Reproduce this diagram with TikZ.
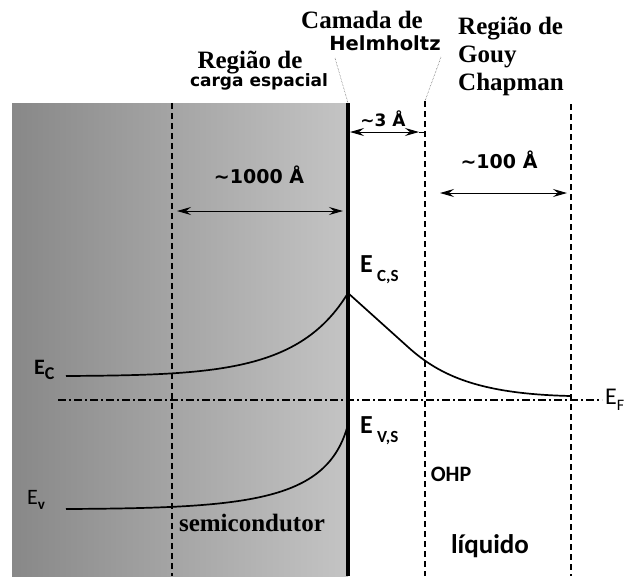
\documentclass[tikz,border=0pt]{standalone}
\usepackage{fontspec}
\setmainfont{Liberation Serif}
\newfontfamily\dvs{DejaVu Sans}
\newfontfamily\crl{Carlito}
\usetikzlibrary{arrows.meta}
\definecolor{gL}{RGB}{136,136,136}
\definecolor{gR}{RGB}{196,196,196}
\tikzset{
  serlab/.style={inner sep=0pt, font=\fontsize{25}{28}\selectfont\bfseries},
  sanlab/.style={inner sep=0pt, font=\dvs\fontsize{17}{20}\selectfont\bfseries},
  elab/.style={inner sep=0pt, font=\crl\fontsize{24}{26}\selectfont\bfseries},
  vdash/.style={line width=1.1pt, dash pattern=on 6pt off 4pt},
  fermi/.style={line width=1.4pt, dash pattern=on 8pt off 3pt on 2pt off 3pt},
  band/.style={line width=1.7pt},
  dimarrow/.style={line width=1pt, {Stealth[length=14pt,width=8pt,inset=5pt]}-{Stealth[length=14pt,width=8pt,inset=5pt]}},
  pointer/.style={line width=0.5pt, densely dotted, black!70}
}
\begin{document}
\begin{tikzpicture}[x=1pt,y=-1pt]
\useasboundingbox (0,0) rectangle (626,576);
% semiconductor block
\shade[left color=gL, right color=gR] (12,103) rectangle (348,576);
% vertical dashed lines
\coordinate (d1t) at (172,103); \coordinate (d1b) at (172,576);
\coordinate (d2t) at (425,101); \coordinate (d2b) at (425,576);
\coordinate (d3t) at (571,104); \coordinate (d3b) at (571,576);
\draw[vdash] (d1t) -- (d1b);
\draw[vdash] (d2t) -- (d2b);
\draw[vdash] (d3t) -- (d3b);
% Fermi level
\coordinate (efl) at (58,400); \coordinate (efr) at (602,400);
\draw[fermi] (efl) -- (efr);
% bands
\coordinate (ec0) at (66,376); \coordinate (ecp) at (348,293); \coordinate (ec1) at (571,396);
\draw[band] (ec0) .. controls (215,375) and (300,372) .. (ecp)
            -- (408,347) .. controls (440,376) and (480,394) .. (ec1);
\coordinate (ev0) at (66,509); \coordinate (evp) at (347,428);
\draw[band] (ev0) .. controls (245,508) and (325,502) .. (evp);
% interface
\coordinate (it) at (348,103); \coordinate (ib) at (348,576);
\draw[line width=4pt] (it) -- (ib);
% top labels
\node[serlab] (reg1) at (250,63) {Região de};
\node[sanlab] (carga) at (259,82) {carga espacial};
\node[serlab] (cam) at (362,20) {Camada de};
\node[sanlab, font=\dvs\fontsize{19.5}{20}\selectfont\bfseries] (helm) at (385,43) {Helmholtz};
\node[serlab, align=left, anchor=west] (gouy) at (458,56) {Região de\\Gouy\\Chapman};
\coordinate (h1) at (335,58); \coordinate (h2) at (441,57);
\draw[pointer] (h1) -- (it);
\draw[pointer] (h2) -- (d2t);
% dimension arrows
\node[sanlab, font=\dvs\fontsize{19}{20}\selectfont\bfseries] (t1000) at (259,175) {\textasciitilde1000 Å};
\coordinate (a1l) at (177,211); \coordinate (a1r) at (343,211);
\draw[dimarrow] (a1l) -- (a1r);
\node[sanlab, font=\dvs\fontsize{17}{20}\selectfont\bfseries] (t3) at (383,119) {\textasciitilde3 Å};
\coordinate (a3l) at (350,132); \coordinate (a3r) at (419,132); \coordinate (a3e) at (425,132);
\draw[dimarrow] (a3l) -- (a3r);
\draw[line width=1pt] (a3r) -- (a3e);
\node[sanlab, font=\dvs\fontsize{19}{20}\selectfont\bfseries] (t100) at (499,160) {\textasciitilde100 Å};
\coordinate (a2l) at (440,193); \coordinate (a2r) at (567,193);
\draw[dimarrow] (a2l) -- (a2r);
% energy labels
\node[elab, font=\crl\fontsize{22}{24}\selectfont\bfseries, anchor=west] (ec) at (34,370) {E\raisebox{-5pt}{\fontsize{18}{18}\selectfont C}};
\node[elab, font=\crl\fontsize{22}{24}\selectfont, anchor=west] (ev) at (27,500) {E\raisebox{-5pt}{\fontsize{15}{16}\selectfont\bfseries v}};
\node[elab, font=\crl\fontsize{26}{28}\selectfont\bfseries, anchor=west] (ecs) at (360,270) {E\,\raisebox{-9pt}{\fontsize{17}{18}\selectfont C,S}};
\node[elab, font=\crl\fontsize{26}{28}\selectfont\bfseries, anchor=west] (evs) at (360,431) {E\,\raisebox{-9pt}{\fontsize{17}{18}\selectfont V,S}};
\node[elab, font=\crl\fontsize{24}{24}\selectfont, anchor=west] (ef) at (605,400) {E\raisebox{-6pt}{\fontsize{16}{16}\selectfont F}};
% region labels
\node[inner sep=0pt, font=\crl\fontsize{22}{24}\selectfont\bfseries] (ohp) at (451,474) {OHP};
\node[inner sep=0pt, font=\crl\fontsize{27}{30}\selectfont\bfseries] (liq) at (490,546) {líquido};
\node[serlab] (semi) at (252,523) {semicondutor};
\end{tikzpicture}
\end{document}
